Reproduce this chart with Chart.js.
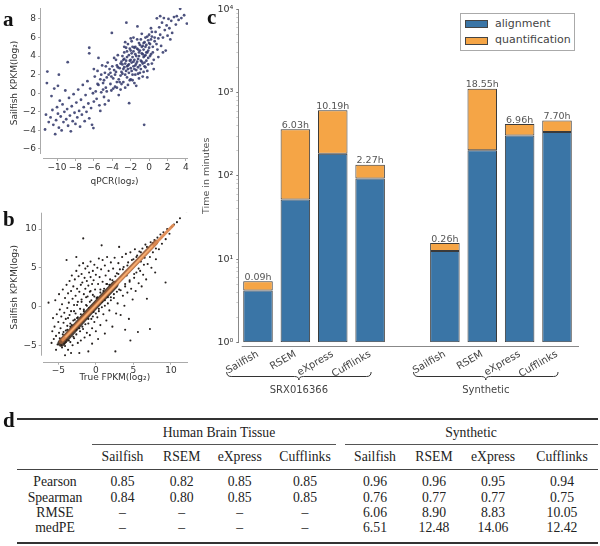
<!DOCTYPE html>
<html><head><meta charset="utf-8">
<script src="https://cdn.jsdelivr.net/npm/chart.js@4.4.1/dist/chart.umd.min.js"></script>
<style>
html,body{margin:0;padding:0;background:#fff;}
#wrap{position:relative;width:600px;height:546px;overflow:hidden;font-family:"DejaVu Sans";}
canvas{position:absolute;}
.lbl{position:absolute;font-family:"Liberation Serif";font-weight:bold;color:#111;font-size:21px;line-height:1;}
.t{position:absolute;font-family:"Liberation Serif";font-size:13.7px;color:#222;transform:translate(-50%,-50%);white-space:nowrap;line-height:1;}
.rule{position:absolute;background:#333;}
#legend{position:absolute;left:460px;top:13px;width:113px;height:36px;border:1px solid #aaa;background:#fff;font-family:"DejaVu Sans";font-size:11px;color:#444;}
#legend .sw{position:absolute;left:4px;width:21px;height:6px;border:1px solid #444;}
#legend .tx{position:absolute;left:34px;line-height:1;transform:translateY(-50%);white-space:nowrap;}
</style></head><body><div id="wrap">
<canvas id="ca" width="200" height="192" style="left:0;top:0"></canvas>
<canvas id="cb" width="200" height="192" style="left:0;top:195px"></canvas>
<canvas id="cc" width="400" height="400" style="left:200px;top:0"></canvas>
<div class="lbl" style="left:3px;top:9px">a</div>
<div class="lbl" style="left:3px;top:209px">b</div>
<div class="lbl" style="left:207px;top:7px">c</div>
<div class="lbl" style="left:3px;top:410px">d</div>
<div id="legend"></div>
<div id="table"></div>
</div>
<script>
// ---------- Panel a: qPCR vs Sailfish (log2) ----------
const QPCR_POINTS = [
[-11.2,-2.3],[-11.3,-3.9],[-10.9,-3.1],[-10.7,-2.6],[-10.5,-1.8],[-10.4,-3.4],[-10.2,-4.4],[-10.1,-2.9],[-10.0,-1.5],[-9.9,-2.2],
[-9.8,-3.7],[-9.7,-0.8],[-9.6,-2.5],[-9.5,-4.0],[-9.4,-1.2],[-9.3,-3.1],[-9.2,-2.0],[-9.1,0.3],[-9.0,-2.8],[-8.9,-1.7],
[-8.8,-3.5],[-8.7,-0.5],[-8.6,-2.4],[-8.5,-4.1],[-8.4,-1.4],[-8.3,-3.0],[-8.2,-0.1],[-8.1,-2.1],[-8.0,-3.3],[-7.9,-1.0],
[-7.8,-2.6],[-7.7,0.4],[-7.6,-1.9],[-7.5,-3.6],[-7.4,-0.7],[-7.3,-2.3],[-7.2,0.9],[-7.1,-1.5],[-7.0,-3.0],[-6.9,-0.2],
[-6.8,-2.0],[-6.7,1.3],[-6.6,-1.1],[-6.5,-2.7],[-6.4,0.5],[-6.3,-1.6],[-6.2,-3.4],[-6.1,0.0],[-6.0,-0.9],[-6.05,-3.75],
[-11.05,2.33],[-9.8,2.0],[-11.1,1.1],[-8.84,3.35],[-10.3,0.5],[-9.9,0.8],[-10.6,-0.3],
[-5.9,1.8],[-5.8,0.2],[-5.7,-0.6],[-5.6,2.4],[-5.5,0.9],[-5.4,-1.3],[-5.3,1.5],[-5.2,0.1],[-5.1,3.0],[-5.0,1.1],
[-4.9,-0.4],[-4.8,2.2],[-4.7,0.6],[-4.6,1.7],[-4.5,3.3],[-4.4,-0.8],[-4.3,2.6],[-4.2,1.0],[-4.1,0.3],[-4.0,2.9],
[-3.9,1.6],[-3.8,3.8],[-3.7,0.7],[-3.6,2.3],[-3.5,1.2],[-3.4,4.1],[-3.3,-0.2],[-3.2,2.7],[-3.1,1.9],[-3.0,3.4],
[-5.6,1.0],[-5.2,2.0],[-4.9,1.4],[-4.6,0.2],[-4.4,2.0],[-4.1,1.8],[-3.9,0.5],[-3.7,2.0],[-3.5,3.0],[-3.3,1.5],
[-3.1,0.4],[-4.05,6.5],[-6.5,4.9],[-6.5,4.3],[-5.5,3.8],[-6.0,2.6],[-5.3,-1.9],[-4.8,-1.2],
[-2.9,2.1],[-2.8,3.6],[-2.8,1.2],[-2.7,4.4],[-2.7,2.8],[-2.6,3.2],[-2.6,0.6],[-2.5,2.4],[-2.5,4.9],[-2.47,7.6],
[-2.4,3.9],[-2.4,1.7],[-2.3,3.0],[-2.3,5.3],[-2.2,2.2],[-2.2,4.1],[-2.17,-1.07],[-2.1,3.5],[-2.1,1.4],[-2.0,2.7],
[-2.0,4.6],[-1.9,3.3],[-1.9,5.6],[-1.8,2.0],[-1.8,3.9],[-1.7,4.5],[-1.7,2.9],[-1.6,3.6],[-1.6,1.1],[-1.5,4.2],
[-1.5,5.0],[-1.4,2.5],[-1.4,3.2],[-1.3,4.8],[-1.27,7.2],[-1.2,3.7],[-1.2,2.1],[-1.1,5.4],[-1.1,4.0],[-1.0,3.0],
[-1.0,4.6],[-0.9,5.8],[-0.9,2.6],[-0.8,4.3],[-0.8,3.4],[-0.7,5.1],[-0.7,1.8],[-0.6,4.7],[-0.6,3.9],[-0.54,-3.4],
[-0.5,5.5],[-0.5,2.9],[-0.4,4.1],[-0.4,6.0],[-0.3,3.5],[-0.3,5.2],[-0.2,4.4],[-0.2,2.4],[-0.1,5.7],[-0.1,3.8],
[0.0,4.9],[0.0,6.3],[-2.9,4.0],[-2.6,5.5],[-2.3,0.9],[-2.0,1.5],[-1.7,6.0],[-1.4,0.8],[-1.1,1.6],[-0.8,6.4],
[-0.5,4.0],[-0.2,1.7],[-2.8,2.6],[-2.5,3.5],[-2.2,3.1],[-1.9,4.3],[-1.6,2.6],[-1.3,3.4],[-1.0,2.2],[-0.7,3.2],
[-0.4,2.8],[-0.1,4.6],
[-3.8,2.5],[-3.6,3.6],[-3.4,2.8],[-3.2,1.2],[-3.0,2.3],[-2.9,3.1],[-2.7,3.7],[-2.6,2.0],[-2.4,4.5],[-2.3,2.6],
[-2.1,4.8],[-2.0,3.6],[-1.9,2.4],[-1.8,5.0],[-1.7,3.4],[-1.6,4.9],[-1.5,3.0],[-1.4,4.0],[-1.3,5.8],[-1.2,2.8],
[-1.1,4.4],[-1.0,5.2],[-0.9,3.5],[-0.8,5.0],[-0.7,4.2],[-0.6,5.4],[-0.5,3.3],[-0.4,5.0],[-0.3,4.4],[-0.2,6.1],
[-0.1,3.1],[0.0,5.4],[0.1,4.0],[0.2,5.8],[0.4,4.4],[0.6,6.0],[-3.5,0.6],[-4.2,2.2],[-4.7,2.9],[-5.0,0.4],
[-3.0,1.0],[-2.4,2.9],[-1.8,1.4],[-1.2,4.7],[-0.6,2.3],[-2.7,5.0],[-3.1,3.2],[-2.0,5.9],[-1.5,2.0],[0.3,6.6],
[0.1,5.3],[0.2,4.2],[0.3,6.1],[0.4,5.0],[0.5,3.6],[0.6,5.6],[0.7,6.6],[0.84,8.07],[0.9,4.7],[1.0,5.9],
[1.1,7.1],[1.2,6.3],[1.3,5.1],[1.4,7.6],[1.5,6.0],[1.6,8.1],[1.7,6.8],[1.8,4.6],[1.9,7.3],[2.0,6.2],
[2.1,8.0],[2.2,7.0],[2.4,7.8],[2.5,6.5],[2.7,8.2],[2.9,7.4],[3.0,8.3],[3.2,7.9],[3.37,9.1],[3.5,8.1],
[3.8,8.4],[4.1,7.5],[0.2,7.0],[0.5,2.6],[1.0,3.9],[0.3,3.2],[1.2,8.3],[2.3,5.8],[0.8,5.3],[1.5,4.4]
];
const A_X_TICKS = [-10,-8,-6,-4,-2,0,2,4];
const A_Y_TICKS = [-6,-4,-2,0,2,4,6,8];

// ---------- Panel b: true vs Sailfish (log2) ----------
const SIM_POINTS = [
[-6.3,0.5],[-5.9,-4.7],[-5.8,-3.2],[-5.7,-1.5],[-5.6,-4.2],[-5.5,-2.6],[-5.4,0.8],[-5.3,-3.8],[-5.2,-1.0],[-5.1,-4.9],
[-5.0,-2.0],[-4.9,-3.4],[-4.9,1.6],[-4.8,-0.4],[-4.7,-4.5],[-4.7,-2.8],[-4.6,-1.3],[-4.5,-5.3],[-4.5,0.3],[-4.4,-3.6],
[-4.4,2.2],[-4.3,-2.1],[-4.2,-4.8],[-4.2,-0.8],[-4.1,-5.1],[-4.1,1.1],[-4.0,-3.1],[-4.0,-1.6],[-3.9,-4.3],[-3.9,2.8],
[-3.8,-0.2],[-3.8,-2.5],[-3.7,-5.6],[-3.7,1.7],[-3.6,-3.8],[-3.6,0.5],[-3.5,-1.1],[-3.5,3.3],[-3.4,-4.6],[-3.4,-2.2],
[-3.3,2.0],[-3.3,-0.6],[-3.2,-3.3],[-3.2,4.0],[-3.1,-5.0],[-3.1,1.0],[-3.0,-1.8],[-3.0,2.6],[-4.1,-6.3],[-3.3,-6.0],
[-5.3,-5.6],[-3.9,6.0],
[-2.9,-4.1],[-2.9,0.2],[-2.8,3.5],[-2.8,-2.7],[-2.7,1.4],[-2.7,-0.9],[-2.6,4.6],[-2.6,-3.6],[-2.5,2.3],[-2.5,-1.5],
[-2.4,-4.7],[-2.4,0.6],[-2.3,3.9],[-2.3,-2.4],[-2.2,1.9],[-2.2,5.3],[-2.1,-0.3],[-2.1,-3.2],[-2.0,2.8],[-2.0,-4.4],
[-1.9,4.2],[-1.9,0.9],[-1.8,-1.9],[-1.8,3.1],[-1.7,5.6],[-1.7,-2.9],[-1.6,1.6],[-1.6,-0.6],[-1.5,3.7],[-1.5,-4.0],
[-1.4,2.3],[-1.4,4.9],[-1.3,-1.2],[-1.3,0.2],[-1.2,3.3],[-1.2,-3.4],[-1.1,5.2],[-1.1,1.3],[-1.0,-2.2],[-1.0,2.7],
[-0.9,4.4],[-0.9,-0.2],[-0.8,-3.7],[-0.8,1.9],[-0.7,3.8],[-0.7,5.8],[-0.6,-1.6],[-0.6,0.8],[-0.5,2.9],[-0.5,-2.8],
[-0.4,4.6],[-0.4,1.5],[-0.3,-0.7],[-0.3,3.4],[-0.2,5.4],[-0.2,-2.0],[-0.1,2.2],[-0.1,0.4],[0.0,4.1],[0.0,-3.2],
[-1.68,8.8],[-1.0,-5.8],[-2.2,-6.0],[-0.5,-4.8],[-2.6,6.4],
[0.1,1.1],[0.2,5.0],[0.2,-1.4],[0.3,2.9],[0.4,6.2],[0.4,-0.3],[0.5,3.8],[0.6,1.8],[0.6,-2.4],[0.7,4.8],
[0.8,0.6],[0.9,3.2],[0.9,6.0],[1.0,-1.0],[1.1,2.3],[1.2,5.3],[1.2,0.1],[1.3,4.0],[1.4,-1.8],[1.5,2.9],
[1.5,6.4],[1.6,1.2],[1.7,4.6],[1.8,-0.5],[1.9,3.5],[2.0,5.7],[2.0,0.8],[2.1,2.3],[2.2,-2.6],[2.3,4.9],
[2.4,1.6],[2.5,6.3],[2.6,3.1],[2.7,-0.9],[2.8,4.3],[2.9,0.4],[3.0,5.6],[0.77,7.9],[3.1,7.7],[2.6,-5.8],
[1.2,-3.5],[0.3,-4.2],
[3.1,2.2],[3.2,4.8],[3.3,-1.1],[3.4,3.6],[3.5,6.4],[3.6,1.4],[3.7,5.1],[3.8,0.1],[3.9,2.9],[4.0,6.8],
[4.1,4.0],[4.2,1.8],[4.3,5.7],[4.4,-1.6],[4.5,3.2],[4.6,7.0],[4.7,2.3],[4.8,5.0],[4.9,0.9],[5.0,6.1],
[5.1,3.7],[5.2,7.4],[5.3,2.0],[5.4,4.4],[5.5,6.6],[5.6,-3.3],[5.7,3.0],[5.8,7.1],[5.9,4.6],[6.0,5.8],
[4.6,-4.4],[3.9,-3.0],
[6.1,2.6],[6.2,7.5],[6.3,4.1],[6.5,6.3],[6.6,8.0],[6.7,3.5],[6.9,5.5],[7.0,7.6],[7.2,-2.9],[7.3,8.3],
[7.4,5.0],[7.6,7.0],[7.8,8.6],[8.0,6.1],[8.2,8.9],[8.4,7.4],[8.6,9.3],[8.8,8.1],[9.0,9.6],[9.28,3.1],
[9.3,8.7],[9.5,10.0],[9.8,9.4],[10.1,10.3],[10.4,10.6],[10.8,10.9],[11.2,11.4],[12.07,12.3],[7.9,4.4],[6.8,1.0],
[-4.8,-4.1],[-4.6,-5.0],[-4.3,-3.3],[-4.0,-4.6],[-3.8,-3.0],[-3.6,-4.4],[-3.4,-2.6],[-3.2,-2.4],[-3.0,-3.9],[-2.8,-1.7],
[-2.6,-3.0],[-2.4,-1.4],[-2.2,-2.8],[-2.0,-1.0],[-1.8,-2.6],[-1.6,-0.4],[-1.4,-2.3],[-1.2,0.1],[-1.0,-1.6],[-0.8,0.6],
[-0.6,-0.4],[-0.4,-1.3],[-0.2,1.3],[0.0,-0.9],[0.2,1.2],[0.4,-0.6],[0.6,2.2],[0.8,-0.1],[1.0,2.0],[1.2,0.8],
[1.4,2.9],[1.6,0.4],[1.8,2.8],[2.0,1.2],[2.2,3.4],[2.4,1.1],[2.6,3.9],[2.8,1.9],[3.0,4.2],[3.3,2.1],
[3.6,4.8],[3.9,2.6],[4.2,5.3],[4.5,3.4],[4.8,6.0],[5.1,4.2],[5.4,6.4],[5.7,4.9],[6.0,7.0],[6.4,5.4],
[6.8,7.7],[7.2,6.4],[7.6,8.2],[8.0,7.5],[-3.7,-1.5],[-2.9,-0.6],[-2.5,0.2],[-1.9,0.6],[-1.3,1.2],[-0.7,2.0]
];
const BAND_HALO = [[-4.6,-4.7],[-1.0,-0.8],[2.5,2.8]];
const BAND_MID = [[-4.6,-4.5],[2.0,2.3],[8.0,8.3]];
const BAND_CORE = [[-4.4,-4.3],[3.0,3.2],[10.3,10.5]];
const BAND_LIGHT = [[-4.0,-3.9],[2.0,2.2],[7.5,7.8]];
const B_X_TICKS = [-5,0,5,10];
const B_Y_TICKS = [-5,0,5,10];

// ---------- Panel c: run times (minutes) ----------
const C_CATEGORIES = ["Sailfish","RSEM","eXpress","Cufflinks","","Sailfish","RSEM","eXpress","Cufflinks"];
const ALIGNMENT = [4.2,52,184,93,null,12.5,203,305,335];
const QUANTIFICATION = [1.2,310,427,43,null,3.1,910,113,127];
const TOTAL_LABELS = ["0.09h","6.03h","10.19h","2.27h","","0.26h","18.55h","6.96h","7.70h"];
const GROUP_LABELS = ["SRX016366","Synthetic"];
const GROUP_SPANS = [[0,3],[5,8]];
const SERIES_NAMES = ["alignment","quantification"];
const C_Y_TICKS = [1,10,100,1000,10000];
const C_Y_TICK_LABELS = ["10⁰","10¹","10²","10³","10⁴"];

// ---------- Panel d: table ----------
const TABLE_GROUPS = ["Human Brain Tissue","Synthetic"];
const TABLE_COLS = ["Sailfish","RSEM","eXpress","Cufflinks"];
const TABLE_ROWS = ["Pearson","Spearman","RMSE","medPE"];
const HBT_VALUES = [["0.85","0.82","0.85","0.85"],["0.84","0.80","0.85","0.85"],["–","–","–","–"],["–","–","–","–"]];
const SYN_VALUES = [["0.96","0.96","0.95","0.94"],["0.76","0.77","0.77","0.75"],["6.06","8.90","8.83","10.05"],["6.51","12.48","14.06","12.42"]];

const BLUE = '#3a75a6', ORANGE = '#f5a546';

// spine plugin
const spinePlugin = {
  id:'spines',
  afterDraw(chart, args, o){
    const {ctx, chartArea:a} = chart;
    ctx.save();
    ctx.strokeStyle = o.color; ctx.lineWidth = 1;
    ctx.beginPath();
    const lx = Math.round(a.left) - 0.5;
    ctx.moveTo(lx, a.top + o.lt); ctx.lineTo(lx, a.bottom - o.lb);
    const by = Math.round(a.bottom + o.bo) + 0.5;
    ctx.moveTo(a.left + o.bl, by); ctx.lineTo(a.right + o.br, by);
    ctx.stroke(); ctx.restore();
  }
};
const minus = v => String(v).replace('-', '−');
const F9 = {family:'DejaVu Sans', size:9};

function scatterAxes(xmin,xmax,ymin,ymax,xt,yt,xh,yw,xtitle,ytitle,xpad){
  return {
    x:{type:'linear',min:xmin,max:xmax,
      afterBuildTicks:s=>{s.ticks=xt.map(v=>({value:v}));},
      afterFit:s=>{s.height=xh;},
      border:{display:false},
      grid:{drawOnChartArea:false,tickLength:3,color:'#aaa'},
      ticks:{font:F9,color:'#333',padding:1,maxRotation:0,autoSkip:false,callback:minus},
      title:{display:true,text:xtitle,font:F9,color:'#333',padding:{top:0,bottom:xpad}}},
    y:{type:'linear',min:ymin,max:ymax,
      afterBuildTicks:s=>{s.ticks=yt.map(v=>({value:v}));},
      afterFit:s=>{s.width=yw;},
      border:{display:false},
      grid:{drawOnChartArea:false,tickLength:3,color:'#aaa'},
      ticks:{font:F9,color:'#333',padding:2,autoSkip:false,callback:minus},
      title:{display:true,text:ytitle,font:F9,color:'#333',padding:{top:9.6,bottom:0}}}
  };
}
const toXY = arr => arr.map(([x,y])=>({x,y}));

new Chart(document.getElementById('ca'), {
  type:'scatter',
  data:{datasets:[{data:toXY(QPCR_POINTS),backgroundColor:'rgba(52,58,108,0.88)',borderWidth:0,pointRadius:1.4}]},
  options:{responsive:false,animation:false,events:[],
    layout:{padding:{top:8,right:12,left:0,bottom:0}},
    plugins:{legend:{display:false},tooltip:{enabled:false},spines:{color:'#aaa',lt:0,lb:4,bl:2,br:0,bo:0}},
    scales:scatterAxes(-11.74,4.22,-6.97,9.18,A_X_TICKS,A_Y_TICKS,34,41,'qPCR(log₂)','Sailfish KPKM(log₂)',4.6)},
  plugins:[spinePlugin]
});

const bandDs = (pts,color,w,order)=>({type:'line',data:toXY(pts),borderColor:color,borderWidth:w,pointRadius:0,borderCapStyle:'round',borderJoinStyle:'round',showLine:true,fill:false,order});
new Chart(document.getElementById('cb'), {
  type:'scatter',
  data:{datasets:[
    bandDs(BAND_LIGHT,'rgba(250,180,120,0.9)',1.5,0),
    bandDs(BAND_CORE,'rgba(222,138,82,0.95)',3,1),
    bandDs(BAND_MID,'rgba(150,92,55,0.9)',5,2),
    bandDs(BAND_HALO,'rgba(45,30,20,0.85)',7.5,3),
    {data:toXY(SIM_POINTS),backgroundColor:'rgba(25,20,18,0.95)',borderWidth:0,pointRadius:1.05,order:4}
  ]},
  options:{responsive:false,animation:false,events:[],
    layout:{padding:{top:17.7,right:12,left:0,bottom:0}},
    plugins:{legend:{display:false},tooltip:{enabled:false},spines:{color:'#aaa',lt:0,lb:6,bl:1.3,br:0,bo:0}},
    scales:scatterAxes(-7.21,12.27,-7.13,12.12,B_X_TICKS,B_Y_TICKS,25.3,41.7,'True FPKM(log₂)','Sailfish KPKM(log₂)',4.3)},
  plugins:[spinePlugin]
});

// minor log ticks for panel c axis
const C_MINOR = [];
C_Y_TICKS.slice(0,-1).forEach(d=>{for(let m=2;m<10;m++)C_MINOR.push(d*m);});

const barLabelPlugin = {
  id:'barLabels',
  afterDatasetsDraw(chart){
    const {ctx} = chart;
    const meta = chart.getDatasetMeta(1);
    ctx.save();
    ctx.font = '9.5px "DejaVu Sans"'; ctx.fillStyle = '#555';
    ctx.textAlign = 'center'; ctx.textBaseline = 'bottom';
    meta.data.forEach((bar,i)=>{ if(TOTAL_LABELS[i]) ctx.fillText(TOTAL_LABELS[i], bar.x, bar.y + 1); });
    ctx.restore();
  },
  afterDraw(chart){
    const {ctx, chartArea:a, scales:{x}} = chart;
    ctx.save();
    ctx.strokeStyle = '#333'; ctx.lineWidth = 1;
    ctx.fillStyle = '#444'; ctx.font = '10px "DejaVu Sans"';
    ctx.textAlign = 'center'; ctx.textBaseline = 'middle';
    const yTop = a.bottom + 29.7, yMid = a.bottom + 34.2, yTip = a.bottom + 37.7;
    GROUP_SPANS.forEach(([i0,i1],g)=>{
      const x0 = x.getPixelForValue(i0) - 31.3, x1 = x.getPixelForValue(i1) + 1;
      const xc = (x0+x1)/2, r = 4.5;
      ctx.beginPath();
      ctx.moveTo(x0,yTop);
      ctx.quadraticCurveTo(x0,yMid,x0+r,yMid);
      ctx.lineTo(xc-r,yMid);
      ctx.quadraticCurveTo(xc,yMid,xc,yTip);
      ctx.quadraticCurveTo(xc,yMid,xc+r,yMid);
      ctx.lineTo(x1-r,yMid);
      ctx.quadraticCurveTo(x1,yMid,x1,yTop);
      ctx.stroke();
      ctx.fillText(GROUP_LABELS[g], xc, a.bottom + 48.4);
    });
    ctx.restore();
  }
};

new Chart(document.getElementById('cc'), {
  type:'bar',
  data:{labels:C_CATEGORIES,datasets:[
    {label:SERIES_NAMES[0],data:ALIGNMENT,backgroundColor:BLUE,borderColor:'#3a3a3a',borderWidth:1,borderSkipped:false},
    {label:SERIES_NAMES[1],data:QUANTIFICATION,backgroundColor:ORANGE,borderColor:'#3a3a3a',borderWidth:1,borderSkipped:false}
  ]},
  options:{responsive:false,animation:false,events:[],
    layout:{padding:{top:9.3,right:24.3,left:0,bottom:0}},
    datasets:{bar:{barPercentage:0.79,categoryPercentage:1}},
    plugins:{legend:{display:false},tooltip:{enabled:false},spines:{color:'#888',lt:0,lb:0,bl:2.4,br:3.3,bo:3.4}},
    scales:{
      x:{stacked:true,afterFit:s=>{s.height=57.7;},border:{display:false},
        grid:{display:false,drawTicks:false},
        ticks:{minRotation:30,maxRotation:30,autoSkip:false,font:{family:'DejaVu Sans',size:10},color:'#444',padding:6}},
      y:{type:'logarithmic',stacked:true,min:1,max:10000,
        afterBuildTicks:s=>{s.ticks=C_Y_TICKS.concat(C_MINOR).sort((p,q)=>p-q).map(v=>({value:v}));},
        afterFit:s=>{s.width=39.3;},
        border:{display:false},
        grid:{drawOnChartArea:false,tickLength:3,color:c=>C_Y_TICKS.includes(c.tick&&c.tick.value)?'#777':'#ccc'},
        ticks:{font:{family:'DejaVu Sans',size:9.5},color:'#333',padding:3,autoSkip:false,
          callback:(v)=>{const k=C_Y_TICKS.indexOf(v);return k>=0?C_Y_TICK_LABELS[k]:'';}},
        title:{display:true,text:'Time in minutes',font:{family:'DejaVu Sans',size:9.5},color:'#555',padding:{top:0.4,bottom:0}}}
    }},
  plugins:[spinePlugin,barLabelPlugin]
});

// legend
const lg = document.getElementById('legend');
[BLUE,ORANGE].forEach((c,i)=>{
  const sw=document.createElement('div');sw.className='sw';sw.style.background=c;sw.style.top=(6+i*16.5)+'px';lg.appendChild(sw);
  const tx=document.createElement('div');tx.className='tx';tx.textContent=SERIES_NAMES[i];tx.style.top=(8.5+i*16.8)+'px';lg.appendChild(tx);
});

// table
const tb = document.getElementById('table');
function txt(s,x,y){const d=document.createElement('div');d.className='t';d.textContent=s;d.style.left=x+'px';d.style.top=y+'px';tb.appendChild(d);}
function rule(x,y,w,h,c){const d=document.createElement('div');d.className='rule';Object.assign(d.style,{left:x+'px',top:y+'px',width:w+'px',height:h+'px'});if(c)d.style.background=c;tb.appendChild(d);}
const COLX = [[122.5,181.7,239.7,305],[375,434,493,562]];
const ROWY = [481.7,497.7,513.3,528.3];
rule(17,418.3,581,2,'#333');
rule(91.7,443.7,244.3,1.2,'#555');
rule(345,443.7,253,1.2,'#555');
rule(17,468.7,581,1.3,'#444');
rule(17,541.5,581,2,'#333');
txt(TABLE_GROUPS[0],219,432.7);
txt(TABLE_GROUPS[1],471,432.7);
[0,1].forEach(g=>TABLE_COLS.forEach((c,j)=>txt(c,COLX[g][j],457.3)));
TABLE_ROWS.forEach((r,i)=>{
  txt(r,55,ROWY[i]);
  HBT_VALUES[i].forEach((v,j)=>txt(v,COLX[0][j],ROWY[i]));
  SYN_VALUES[i].forEach((v,j)=>txt(v,COLX[1][j],ROWY[i]));
});
</script>
</body></html>
